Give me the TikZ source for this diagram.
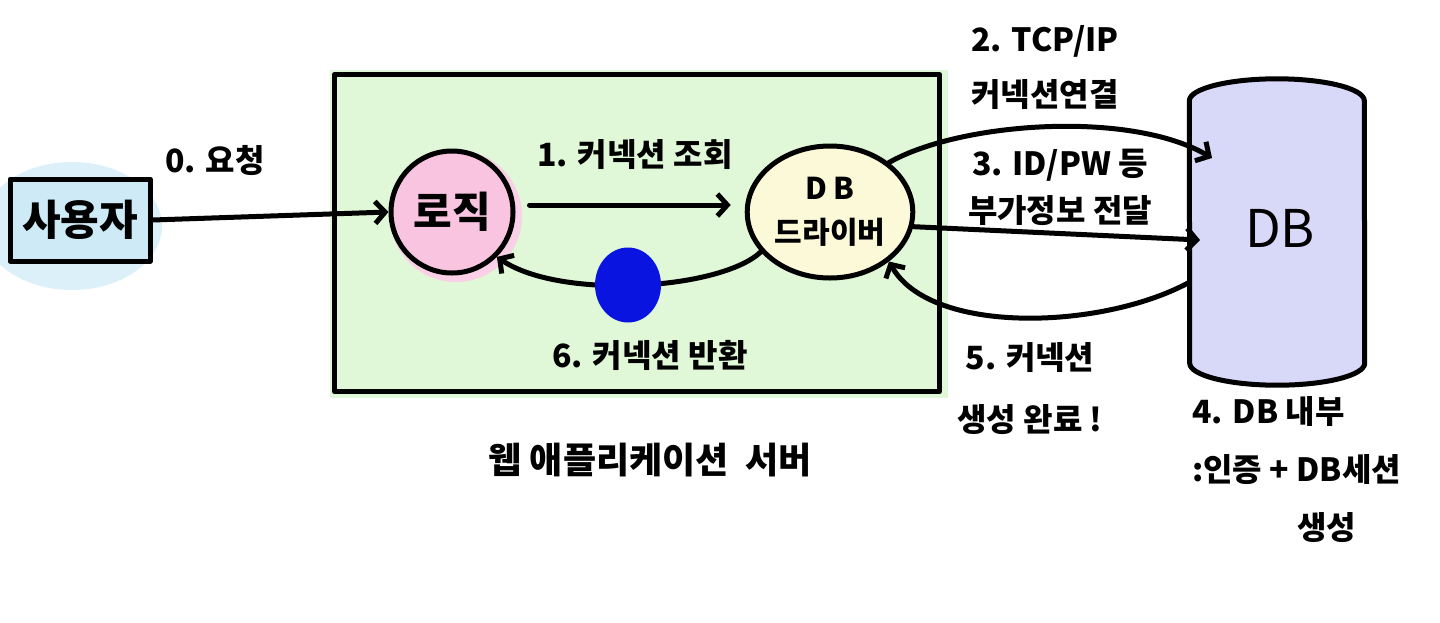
\documentclass[tikz,border=0pt]{standalone}
\usepackage{fontspec}
\setmainfont{Noto Sans CJK KR}
\usetikzlibrary{shapes.geometric,arrows.meta,calc}
\definecolor{userfill}{HTML}{CDEAF6}
\definecolor{servfill}{HTML}{E0F8D8}
\definecolor{logicfill}{HTML}{F8C4E0}
\definecolor{drvfill}{HTML}{FBF9D8}
\definecolor{dotblue}{HTML}{0A14E0}
\definecolor{dbfill}{HTML}{D8D8F8}
\tikzset{
  ink/.style={line width=5pt, line cap=round, line join=round},
  arr/.style={ink, -{Straight Barb[length=10pt,width=22pt,line width=5pt]}},
  lbl/.style={font=\fontsize{32}{42}\selectfont\bfseries, align=center, inner sep=0pt},
  big/.style={font=\fontsize{42}{46}\selectfont\bfseries, inner sep=0pt},
}
\begin{document}
\begin{tikzpicture}[x=1pt,y=-1pt]
\useasboundingbox (0,0) rectangle (1440,622);
% background glows
\fill[userfill!70] (72,226) ellipse [x radius=90, y radius=64];
\fill[servfill] (330,70) rectangle (948,398);
% server box
\node[ink, draw, fill=servfill, minimum width=605, minimum height=317] (server) at (637,233) {};
\node[lbl, font=\fontsize{36}{42}\selectfont\bfseries] (serverlbl) at (650,460) {웹 애플리케이션 \ 서버};
% user
\node[ink, draw, fill=userfill, minimum width=140, minimum height=82, big] (user) at (80,220) {사용자};
% logic
\fill[logicfill!80] (456,216) circle (66);
\node[ink, draw, circle, fill=logicfill, minimum size=122, big] (logic) at (452,212) {로직};
% driver
\node[ink, draw, ellipse, fill=drvfill, minimum width=148, minimum height=132, align=center, font=\fontsize{30}{44}\selectfont\bfseries] (drv) at (830,212) {D B\\드라이버};
% db cylinder
\node[minimum width=175, minimum height=262, inner sep=0pt] (db) at (1277,232) {};
\filldraw[ink, fill=dbfill] (db.north west) arc[start angle=180, end angle=360, x radius=87.5, y radius=22]
  -- (db.south east) arc[start angle=0, end angle=180, x radius=87.5, y radius=22] -- cycle;
\node[font=\fontsize{52}{56}\selectfont, inner sep=0pt] (dblbl) at (1280,228) {DB};
% connectors
\draw[arr] (user.east) -- (logic.west);
\node[lbl] (l0) at (215,160) {0. 요청};
\draw[arr, shorten <=14pt, shorten >=14pt] (logic.east |- 0,205) -- (drv.west |- 0,205);
\node[lbl] (l1) at (635,155) {1. 커넥션 조회};
\draw[arr] (drv.210) .. controls (720,290) and (560,300) .. (logic.-45);
\node[ellipse, fill=dotblue, minimum width=66, minimum height=75] (dot) at (628,285) {};
\node[lbl] (l6) at (650,355) {6. 커넥션 반환};
\coordinate (a2) at (1212,158);
\coordinate (a3) at (1200,240);
\coordinate (a5) at (1188,283);
\draw[arr] (drv.40) .. controls (960,122) and (1130,110) .. (a2);
\node[lbl, font=\fontsize{32}{55}\selectfont\bfseries] (l2) at (1045,68) {2. TCP/IP\\커넥션연결};
\draw[arr] (drv.-10) -- (a3);
\node[lbl, font=\fontsize{32}{47}\selectfont\bfseries] (l3) at (1060,187) {3. ID/PW 등\\부가정보 전달};
\draw[arr] (a5) .. controls (1100,330) and (930,335) .. (drv.-40);
\node[lbl, font=\fontsize{32}{62}\selectfont\bfseries] (l5) at (1030,389) {5. 커넥션\\생성 완료 !};
\node[lbl, font=\fontsize{32}{58}\selectfont\bfseries, align=left, anchor=north west] (l4) at (1192,396) {4. DB 내부\\:인증 + DB세션\\\hspace*{105pt}생성};
\end{tikzpicture}
\end{document}
